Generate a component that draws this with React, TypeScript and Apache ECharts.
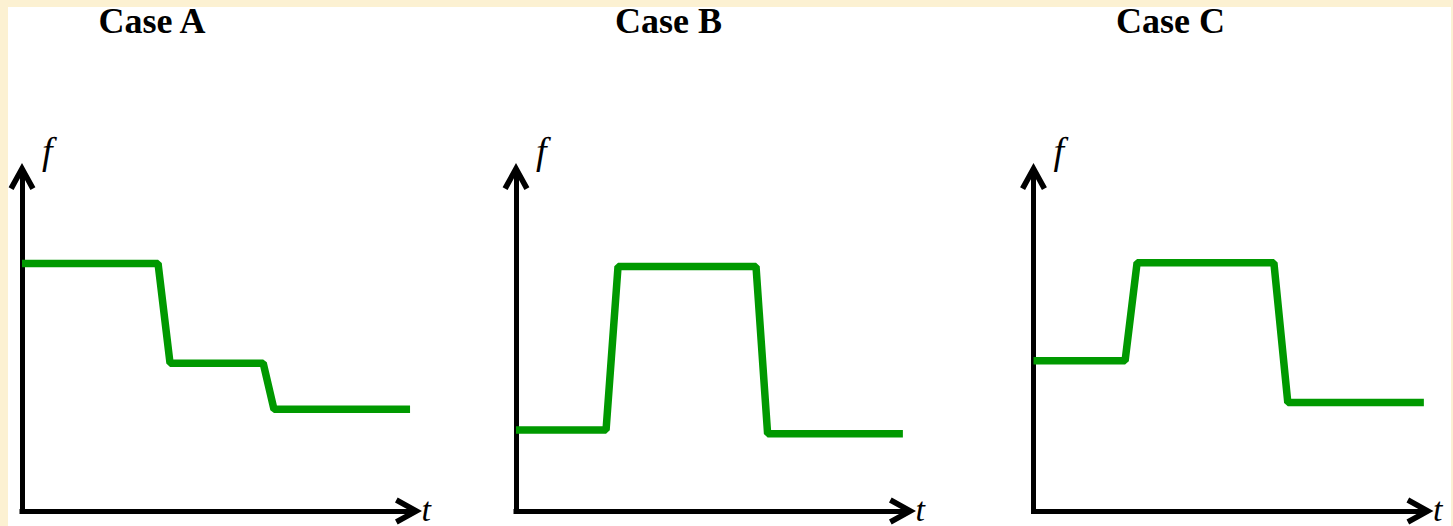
import React, { useEffect, useRef } from "react";
import * as echarts from "echarts";

// Three step profiles of f over t
const caseTitles = ["Case A", "Case B", "Case C"];
const caseATime = [0, 3.52, 3.83, 6.24, 6.52, 10.04];
const caseAValue = [7.4, 7.4, 4.42, 4.42, 3.04, 3.04];
const caseBTime = [0, 2.33, 2.64, 6.21, 6.51, 10.01];
const caseBValue = [2.42, 2.42, 7.31, 7.31, 2.31, 2.31];
const caseCTime = [0, 2.37, 2.68, 6.22, 6.58, 10.1];
const caseCValue = [4.49, 4.49, 7.42, 7.42, 3.24, 3.24];
const valueAxisName = "f";
const timeAxisName = "t";

const cases = [
  { time: caseATime, value: caseAValue },
  { time: caseBTime, value: caseBValue },
  { time: caseCTime, value: caseCValue },
];

// Panel layout
const panelLefts = [22, 516, 1033.5];
const titleCenters = [152, 668.5, 1170.5];
const panelTop = 176.5;
const panelWidth = 386.5;
const panelHeight = 335;

const LINE_GREEN = "#009900";
const FRAME = "#FCF1D2";

// open chevron arrow head, pointing up
const ARROW_HEAD =
  "path://M14 0 L27.5 24.5 L22.5 27.2 L14 11.6 L5.5 27.2 L0.5 24.5 Z";

const axisLineStyle = {
  show: true,
  onZero: false,
  symbol: ["none", ARROW_HEAD],
  symbolSize: [27, 27],
  lineStyle: { color: "#000", width: 5, cap: "square" },
};

const italicSerif = {
  fontFamily: "Liberation Serif",
  fontStyle: "italic",
  color: "#000",
};

export default function App() {
  const ref = useRef<HTMLDivElement>(null);

  useEffect(() => {
    if (!ref.current) return;
    const chart = echarts.init(ref.current, null, { renderer: "svg" });

    const option = {
      animation: false,
      backgroundColor: "#ffffff",
      title: caseTitles.map((text, i) => ({
        text,
        left: titleCenters[i],
        top: 3,
        padding: 0,
        textAlign: "center",
        textVerticalAlign: "top",
        textStyle: {
          fontFamily: "Liberation Serif",
          fontWeight: "bold",
          fontSize: 36,
          color: "#000",
        },
      })),
      grid: panelLefts.map((left) => ({
        left,
        top: panelTop,
        width: panelWidth,
        height: panelHeight,
        containLabel: false,
      })),
      xAxis: panelLefts.map((_, i) => ({
        type: "value",
        gridIndex: i,
        min: 0,
        max: 10,
        name: timeAxisName,
        nameLocation: "end",
        nameGap: 13,
        nameTextStyle: {
          ...italicSerif,
          fontSize: 34,
          lineHeight: 4,
          verticalAlign: "bottom",
        },
        axisLine: axisLineStyle,
        axisTick: { show: false },
        axisLabel: { show: false },
        splitLine: { show: false },
      })),
      yAxis: panelLefts.map((_, i) => ({
        type: "value",
        gridIndex: i,
        min: 0,
        max: 10,
        name: valueAxisName,
        nameLocation: "end",
        nameGap: 14,
        nameTextStyle: {
          ...italicSerif,
          fontSize: 38,
          lineHeight: 24,
          align: "left",
          padding: [0, 0, 0, 20],
        },
        axisLine: axisLineStyle,
        axisTick: { show: false },
        axisLabel: { show: false },
        splitLine: { show: false },
      })),
      series: cases.map((c, i) => ({
        type: "line",
        xAxisIndex: i,
        yAxisIndex: i,
        data: c.time.map((t, k) => [t, c.value[k]]),
        showSymbol: false,
        symbol: "none",
        clip: false,
        silent: true,
        lineStyle: { color: LINE_GREEN, width: 7.5 },
      })),
      graphic: [
        { type: "rect", shape: { x: 0, y: 0, width: 1453, height: 7 }, style: { fill: FRAME }, z: 100 },
        { type: "rect", shape: { x: 0, y: 0, width: 8, height: 526 }, style: { fill: FRAME }, z: 100 },
        { type: "rect", shape: { x: 1451, y: 0, width: 2, height: 526 }, style: { fill: FRAME }, z: 100 },
      ],
    };

    chart.setOption(option as any);
    return () => chart.dispose();
  }, []);

  return (
    <div
      ref={ref}
      style={{ position: "absolute", left: 0, top: 0, width: 1453, height: 526 }}
    />
  );
}
